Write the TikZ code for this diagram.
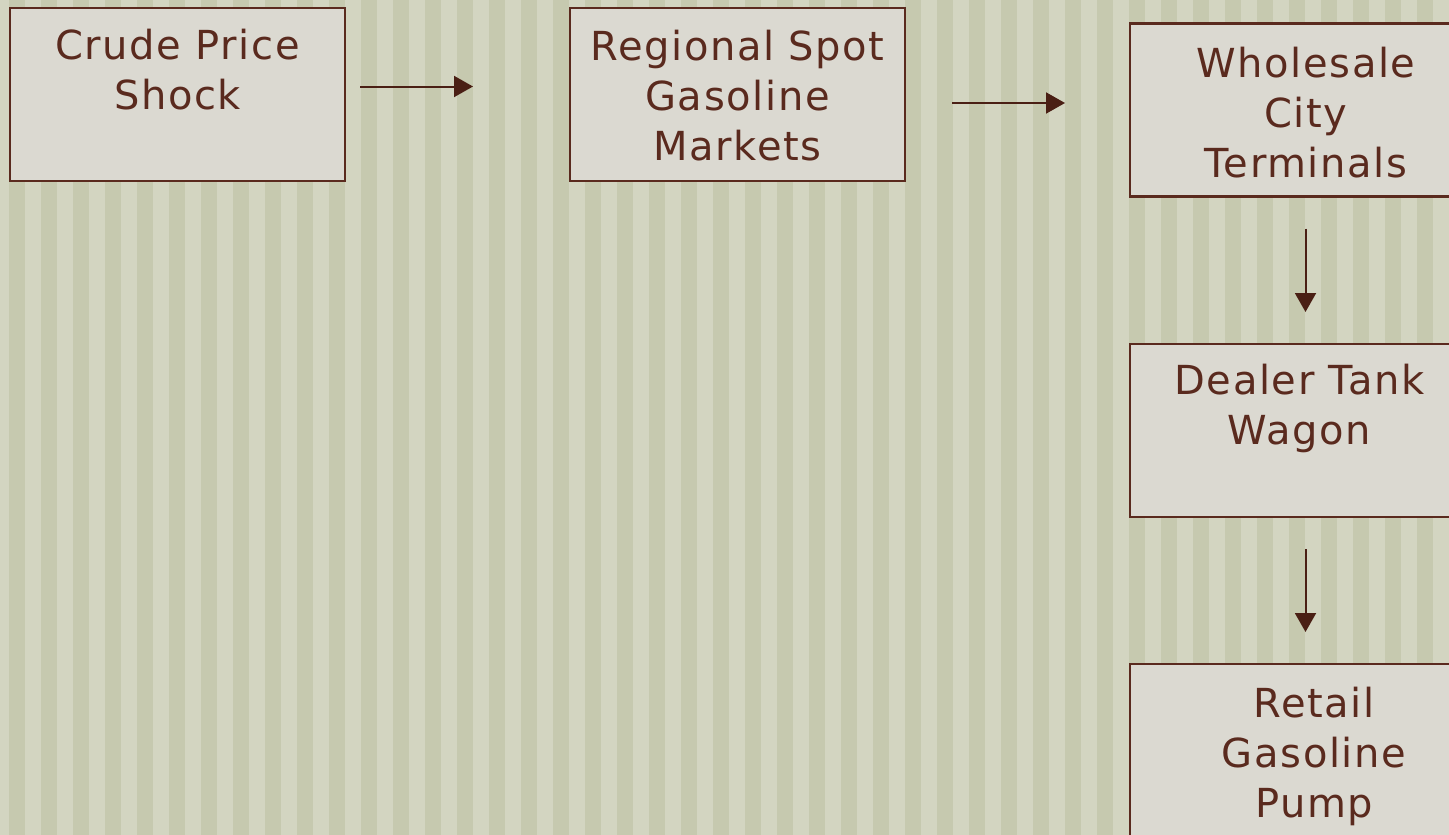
\documentclass[tikz,border=0pt]{standalone}
\usepackage{fontspec}
\setmainfont{DejaVu Sans}[LetterSpace=4]
\usetikzlibrary{arrows.meta,calc}
\definecolor{bglight}{HTML}{D3D5C1}
\definecolor{bgdark}{HTML}{C6C9AF}
\definecolor{boxfill}{HTML}{DBD9D1}
\definecolor{brown}{HTML}{5A2A1E}
\definecolor{arrowc}{HTML}{4A1F14}
\tikzset{
  stepbox/.style={draw=brown, fill=boxfill, line width=1.6pt, rectangle, inner sep=0pt, outer sep=0pt,
    minimum width=251.25pt, minimum height=129.75pt},
  boxtext/.style={text=brown, font=\fontsize{30}{37.5}\selectfont, align=center, anchor=base, inner sep=0pt},
  arr/.style={draw=arrowc, line width=1.5pt, -{Triangle[length=14.25pt, width=15.75pt]}}
}
\begin{document}
\begin{tikzpicture}[x=0.75pt, y=-0.75pt]
\useasboundingbox (0,0) rectangle (1449,835);
\clip (0,0) rectangle (1449,835);
\fill[bglight] (0,0) rectangle (1449,835);
\foreach \i in {0,...,45} {
  \fill[bgdark] ({9+32*\i},0) rectangle ({25+32*\i},835);
}
\node[stepbox] (a) at (177.5,94.5) {};
\node[stepbox] (b) at (737.5,94.5) {};
\node[stepbox] (c) at (1297.5,110) {};
\node[stepbox] (d) at (1297.5,430.5) {};
\node[stepbox] (e) at (1297.5,750.5) {};
\node[boxtext] (ta) at (177.5,109) {Crude Price\\Shock};
\node[boxtext] (tb) at (737.5,160) {Regional Spot\\Gasoline\\Markets};
\node[boxtext] (tc) at (1306,177) {Wholesale\\City\\Terminals};
\node[boxtext] (td) at (1299.5,444) {Dealer Tank\\Wagon};
\node[boxtext] (te) at (1314,817) {Retail\\Gasoline\\Pump};
\draw[arr] ($(a.east)+(15,-8)$) -- ($(b.west)+(-97,-8)$);
\draw[arr] ($(b.east)+(47,8.5)$) -- ($(c.west)+(-65,-7)$);
\draw[arr] ($(c.south)+(8,32)$) -- ($(d.north)+(8,-32)$);
\draw[arr] ($(d.south)+(8,32)$) -- ($(e.north)+(8,-32)$);
\end{tikzpicture}
\end{document}
